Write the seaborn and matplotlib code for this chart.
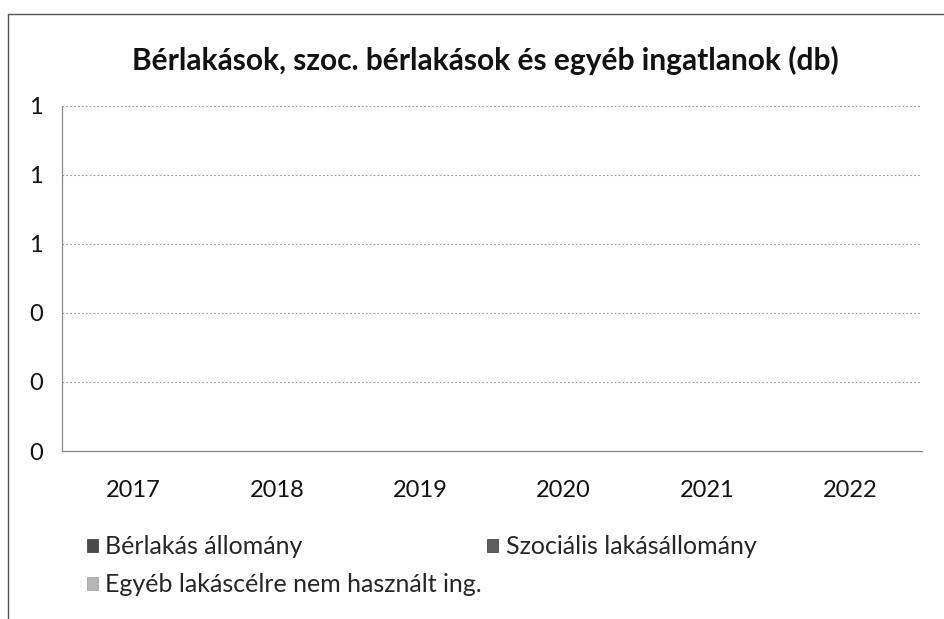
import matplotlib
matplotlib.use("Agg")
import matplotlib.pyplot as plt
import seaborn as sns
import pandas as pd
from matplotlib.patches import Patch
from matplotlib.lines import Line2D
from matplotlib.ticker import FormatStrFormatter, FixedLocator

years = ["2017", "2018", "2019", "2020", "2021", "2022"]
berlakas = [0, 0, 0, 0, 0, 0]
szocialis = [0, 0, 0, 0, 0, 0]
egyeb = [0, 0, 0, 0, 0, 0]
series_names = ["Bérlakás állomány", "Szociális lakásállomány", "Egyéb lakáscélre nem használt ing."]
series_colors = ["#4a4a4a", "#5e5e5e", "#b5b5b5"]
title = "Bérlakások, szoc. bérlakások és egyéb ingatlanok (db)"

sns.set_style("white")
plt.rcParams["font.family"] = ["Lato", "DejaVu Sans"]

df = pd.DataFrame({
    "Év": years * 3,
    "Érték": berlakas + szocialis + egyeb,
    "Sorozat": [series_names[0]] * 6 + [series_names[1]] * 6 + [series_names[2]] * 6,
})

fig = plt.figure(figsize=(9.44, 6.19), dpi=100)
ax = fig.add_axes([62 / 944, (619 - 451) / 619, 860 / 944, 345 / 619])

sns.barplot(data=df, x="Év", y="Érték", hue="Sorozat", palette=series_colors,
            ax=ax, legend=False, errorbar=None)

ax.set_ylim(0, 1)
ax.set_xlim(-0.5, 5.5)
ax.yaxis.set_major_locator(FixedLocator([0, 0.2, 0.4, 0.6, 0.8, 1.0]))
ax.yaxis.set_major_formatter(FormatStrFormatter("%.0f"))
ax.grid(axis="y", color="#9a9a9a", linestyle=(0, (1.5, 2)), linewidth=0.8)
ax.set_axisbelow(True)
ax.set_xlabel("")
ax.set_ylabel("")

for s in ["top", "right"]:
    ax.spines[s].set_visible(False)
for s in ["left", "bottom"]:
    ax.spines[s].set_color("#8a8a8a")
    ax.spines[s].set_linewidth(0.9)

ax.set_xticks(range(len(years)))
ax.set_xticklabels(years, fontsize=17, color="#111111")
ax.set_xticks([i + 0.5 for i in range(-1, len(years))], minor=True)
ax.tick_params(axis="x", which="major", length=0, pad=21)
ax.tick_params(axis="x", which="minor", length=4, color="#8a8a8a", direction="out")
ax.tick_params(axis="y", which="major", length=4, color="#8a8a8a", labelsize=17,
               labelcolor="#111111", pad=10)

fig.text(485 / 944, 1 - 60 / 619, title, ha="center", va="center",
         fontsize=21.5, fontweight="bold", color="#111111")

handles = [
    Patch(facecolor=series_colors[0], edgecolor="#333333", linewidth=0.5, label=series_names[0]),
    Patch(facecolor=series_colors[2], edgecolor="#999999", linewidth=0.5, label=series_names[2]),
    Patch(facecolor=series_colors[1], edgecolor="#333333", linewidth=0.5, label=series_names[1]),
]
fig.legend(handles=handles, ncol=2, loc="upper left",
           bbox_to_anchor=(74 / 944, 1 - 523 / 619), frameon=False,
           fontsize=18, handlelength=0.45, handleheight=0.45, handletextpad=0.3,
           labelspacing=0.6, columnspacing=0.2, borderpad=0)

# outer chart border (top and left edges visible)
fig.add_artist(Line2D([8 / 944, 8 / 944], [0, 1 - 14 / 619], transform=fig.transFigure,
                      color="#555555", linewidth=1.0))
fig.add_artist(Line2D([8 / 944, 1], [1 - 14 / 619, 1 - 14 / 619], transform=fig.transFigure,
                      color="#555555", linewidth=1.0))

fig.savefig("out.png", dpi=100)
